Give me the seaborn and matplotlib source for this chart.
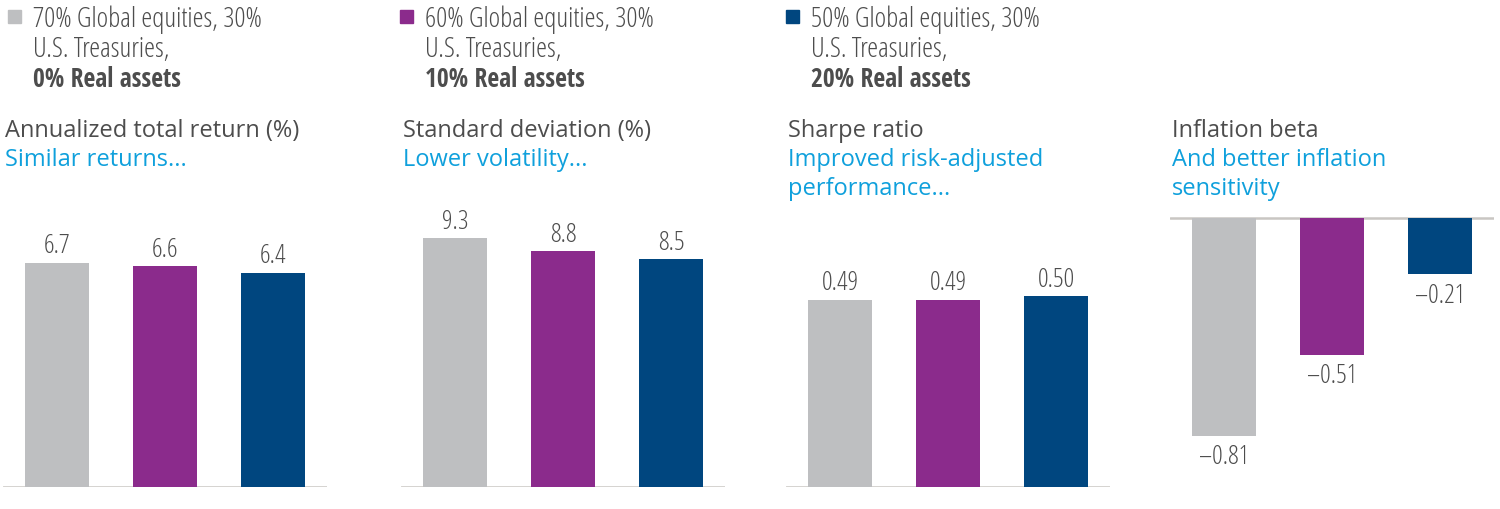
import numpy as np
import pandas as pd
import seaborn as sns
import matplotlib.pyplot as plt
from matplotlib.patches import Rectangle

# --- data ---
portfolios = ["70/30/0", "60/30/10", "50/30/20"]
legend_line1 = ["70% Global equities, 30%", "60% Global equities, 30%", "50% Global equities, 30%"]
legend_line2 = ["U.S. Treasuries,", "U.S. Treasuries,", "U.S. Treasuries,"]
legend_line3 = ["0% Real assets", "10% Real assets", "20% Real assets"]

metrics = ["Annualized total return (%)", "Standard deviation (%)", "Sharpe ratio", "Inflation beta"]
subtitles = [["Similar returns..."],
             ["Lower volatility..."],
             ["Improved risk-adjusted", "performance..."],
             ["And better inflation", "sensitivity"]]

total_return = [6.7, 6.6, 6.4]
std_dev = [9.3, 8.8, 8.5]
sharpe = [0.49, 0.49, 0.50]
infl_beta = [-0.81, -0.51, -0.21]
decimals = [1, 1, 2, 2]

# --- style ---
colors = ["#bebfc1", "#8b2b8c", "#00467f"]
text_col = "#4d4d4d"
blue_txt = "#0fa0dc"
axis_col = "#c9c6c3"
light_cond = dict(family=["Open Sans", "DejaVu Sans"], stretch="condensed", fontweight=300)
bold_cond = dict(family=["Open Sans Condensed", "DejaVu Sans"], fontweight="bold")
sans = ["Open Sans", "DejaVu Sans"]

sns.set_style("white")
plt.rcParams["font.family"] = sans

W, H = 1500, 510
fig = plt.figure(figsize=(15, 5.1), dpi=100)

def fx(px):
    return px / W

def fy(py):
    return 1 - py / H

panel_left = [3, 401, 786, 1170]
axes_top, axes_bottom = 210, 488
ylims = [(0, 8.3), (0, 10.37), (0, 0.727), (-1.0, 0.033)]
series = [total_return, std_dev, sharpe, infl_beta]

for i in range(4):
    ax = fig.add_axes([fx(panel_left[i]), fy(axes_bottom), fx(324), (axes_bottom - axes_top) / H])
    df = pd.DataFrame({"portfolio": portfolios, "value": series[i]})
    sns.barplot(data=df, x="portfolio", y="value", hue="portfolio", palette=colors,
                saturation=1, width=0.6, linewidth=0, legend=False, ax=ax)
    ax.set_xlim(-0.5, 2.5)
    ax.set_ylim(*ylims[i])
    ax.axhline(0, color=axis_col, lw=1.8, zorder=0)
    ax.set_axis_off()

    for cont, v in zip(ax.containers, series[i]):
        lab = f"{abs(v):.{decimals[i]}f}"
        if v < 0:
            lab = "\u2013" + lab
        ax.bar_label(cont, labels=[lab], padding=6 if v < 0 else 3,
                     fontsize=19, color=text_col, **light_cond)

    # panel titles
    fig.text(fx(panel_left[i] + 2), fy(137), metrics[i], fontsize=17, color=text_col,
             va="baseline", ha="left")
    for j, line in enumerate(subtitles[i]):
        fig.text(fx(panel_left[i] + 2), fy(166 + 29 * j), line, fontsize=17, color=blue_txt,
                 va="baseline", ha="left")

# --- legend at top ---
leg_sq = [8, 400, 786]
for k in range(3):
    fig.patches.append(Rectangle((fx(leg_sq[k]), fy(24)), fx(13), 13 / H, color=colors[k],
                                 transform=fig.transFigure, figure=fig))
    tx = fx(leg_sq[k] + 25)
    fig.text(tx, fy(27), legend_line1[k], fontsize=20, color=text_col, va="baseline", **light_cond)
    fig.text(tx, fy(57), legend_line2[k], fontsize=20, color=text_col, va="baseline", **light_cond)
    fig.text(tx, fy(87), legend_line3[k], fontsize=18.5, color=text_col, va="baseline", **bold_cond)

plt.savefig("out.png", dpi=100)
